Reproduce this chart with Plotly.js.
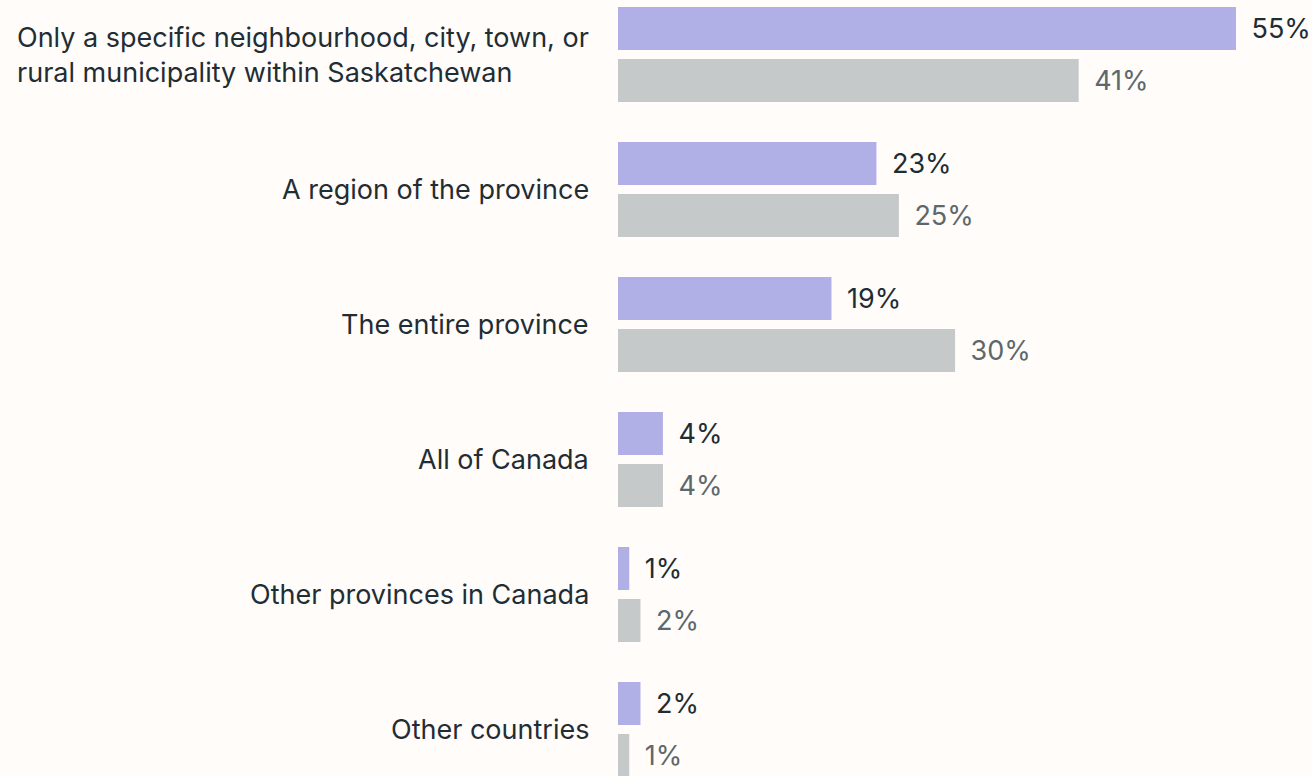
<!DOCTYPE html>
<html>
<head>
<meta charset="utf-8">
<script src="https://cdn.plot.ly/plotly-3.0.1.min.js"></script>
<style>
  html, body { margin: 0; padding: 0; background: #fffcf9; }
  #chart { width: 1312px; height: 776px; }
</style>
</head>
<body>
<div id="chart"></div>
<script>
const categories = [
  "Only a specific neighbourhood, city, town, or<br>rural municipality within Saskatchewan",
  "A region of the province",
  "The entire province",
  "All of Canada",
  "Other provinces in Canada",
  "Other countries"
];
const seriesA = [55, 23, 19, 4, 1, 2];   // purple
const seriesB = [41, 25, 30, 4, 2, 1];   // grey

const FONT = "Inter, 'Open Sans', sans-serif";
const FS = 27;
const PAD = "\u00a0\u2009";

const traces = [
  {
    type: "bar", orientation: "h", name: "A",
    x: seriesA, y: categories,
    marker: { color: "#b1b0e6" },
    text: seriesA.map(v => PAD + v + "%"),
    textposition: "outside", cliponaxis: false, constraintext: "none",
    textfont: { family: FONT, size: FS, color: "#1e2c34" },
    hoverinfo: "skip"
  },
  {
    type: "bar", orientation: "h", name: "B",
    x: seriesB, y: categories,
    marker: { color: "#c6c9ca" },
    text: seriesB.map(v => PAD + v + "%"),
    textposition: "outside", cliponaxis: false, constraintext: "none",
    textfont: { family: FONT, size: FS, color: "#5d686d" },
    hoverinfo: "skip"
  }
];

const plotW = 1312 - 618;
const annotations = categories.map(c => ({
  xref: "paper", yref: "y", x: -27 / plotW, y: c,
  xanchor: "right", yanchor: "middle", align: "left",
  text: c, showarrow: false,
  font: { family: FONT, size: FS, color: "#1f2d35" }
}));

const layout = {
  width: 1312, height: 776,
  margin: { l: 618, r: 0, t: 0, b: 0, pad: 0 },
  paper_bgcolor: "#fffcf9", plot_bgcolor: "#fffcf9",
  barmode: "group", bargap: 0.23, bargroupgap: 0.173,
  showlegend: false,
  xaxis: { range: [0, plotW / 11.236], visible: false, fixedrange: true },
  yaxis: {
    type: "category", range: [(776 - 54.5) / 135, -54.5 / 135],
    showticklabels: false, showgrid: false, zeroline: false, showline: false,
    ticks: "", fixedrange: true
  },
  annotations: annotations
};

Plotly.newPlot("chart", traces, layout, { displayModeBar: false, staticPlot: true });
</script>
</body>
</html>
